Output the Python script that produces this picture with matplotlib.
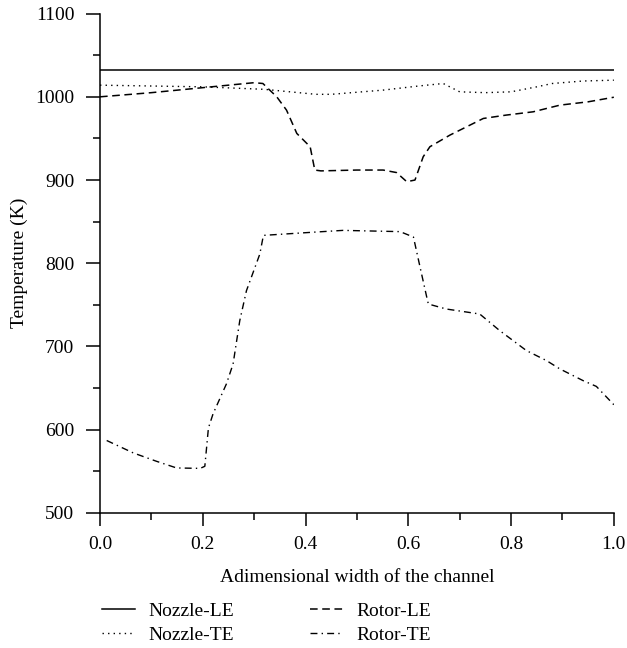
import matplotlib
matplotlib.use("Agg")
import matplotlib.pyplot as plt
from matplotlib.ticker import MultipleLocator, FormatStrFormatter

plt.rcParams["font.family"] = ["Liberation Serif", "DejaVu Serif"]

# Nozzle leading edge (constant)
nozzle_le_x = [0.0, 1.0]
nozzle_le_y = [1032, 1032]

# Nozzle trailing edge
nozzle_te_x = [0.0, 0.1, 0.2, 0.32, 0.42, 0.45, 0.55, 0.62, 0.668, 0.70, 0.75, 0.80, 0.85, 0.88, 0.94, 1.0]
nozzle_te_y = [1014, 1013, 1012, 1009, 1003, 1003, 1008, 1013, 1016, 1006, 1005, 1006, 1012, 1016, 1019, 1020]

# Rotor leading edge
rotor_le_x = [0.0, 0.1, 0.2, 0.25, 0.3, 0.317, 0.344, 0.363, 0.383, 0.409, 0.418, 0.43, 0.5, 0.551, 0.577,
              0.597, 0.613, 0.629, 0.642, 0.681, 0.746, 0.79, 0.843, 0.895, 0.95, 1.0]
rotor_le_y = [1000, 1005, 1011, 1014, 1017, 1016, 1000, 984, 956, 940, 912, 911, 912, 912, 909,
              898, 900, 928, 940, 954, 974, 978, 982, 990, 994, 999.5]

# Rotor trailing edge
rotor_te_x = [0.013, 0.065, 0.11, 0.149, 0.195, 0.204, 0.211, 0.22, 0.246, 0.259, 0.272, 0.285, 0.311,
              0.318, 0.42, 0.473, 0.584, 0.61, 0.623, 0.636, 0.639, 0.674, 0.739, 0.778, 0.83, 0.869,
              0.895, 0.94, 0.966, 1.0]
rotor_te_y = [587, 572, 562, 554, 553.5, 556, 602, 619, 655, 679, 731, 767, 811,
              833.5, 837.5, 839.5, 838, 831.5, 795, 759, 751, 745, 739, 719, 695, 683,
              673, 659, 652, 630]

fig = plt.figure(figsize=(6.27, 6.48), dpi=100)
ax = fig.add_axes([0.1595, 0.2085, 0.8195, 0.7705])

# order gives Nozzle in column 1, Rotor in column 2
ax.plot(nozzle_le_x, nozzle_le_y, color="black", lw=1.1, ls="-", label="Nozzle-LE")
ax.plot(nozzle_te_x, nozzle_te_y, color="black", lw=1.0, ls=(0, (1, 3)), label="Nozzle-TE")
ax.plot(rotor_le_x, rotor_le_y, color="black", lw=1.1, ls=(0, (5, 3)), label="Rotor-LE")
ax.plot(rotor_te_x, rotor_te_y, color="black", lw=1.0, ls=(0, (5, 3, 1, 3)), label="Rotor-TE")

ax.set_xlim(0, 1)
ax.set_ylim(500, 1100)
ax.xaxis.set_major_locator(MultipleLocator(0.2))
ax.xaxis.set_minor_locator(MultipleLocator(0.1))
ax.yaxis.set_major_locator(MultipleLocator(100))
ax.yaxis.set_minor_locator(MultipleLocator(50))
ax.xaxis.set_major_formatter(FormatStrFormatter("%.1f"))

for side in ["top", "right"]:
    ax.spines[side].set_visible(False)
for side in ["left", "bottom"]:
    ax.spines[side].set_linewidth(1.1)

ax.tick_params(which="major", direction="out", length=10, width=1.1, labelsize=14, pad=8.5)
ax.tick_params(which="minor", direction="out", length=5, width=1.1)
ax.tick_params(axis="x", which="major", length=9.5, pad=7)

ax.set_xlabel("Adimensional width of the channel", fontsize=14, labelpad=12)
ax.set_ylabel("Temperature (K)", fontsize=14, labelpad=5)

fig.legend(loc="upper left", bbox_to_anchor=(0.162, 0.071), ncol=2, frameon=False,
           fontsize=14, handlelength=1.7, handletextpad=0.7, columnspacing=3.9,
           labelspacing=0.35, borderpad=0, borderaxespad=0)

fig.savefig("out.png", dpi=100)
